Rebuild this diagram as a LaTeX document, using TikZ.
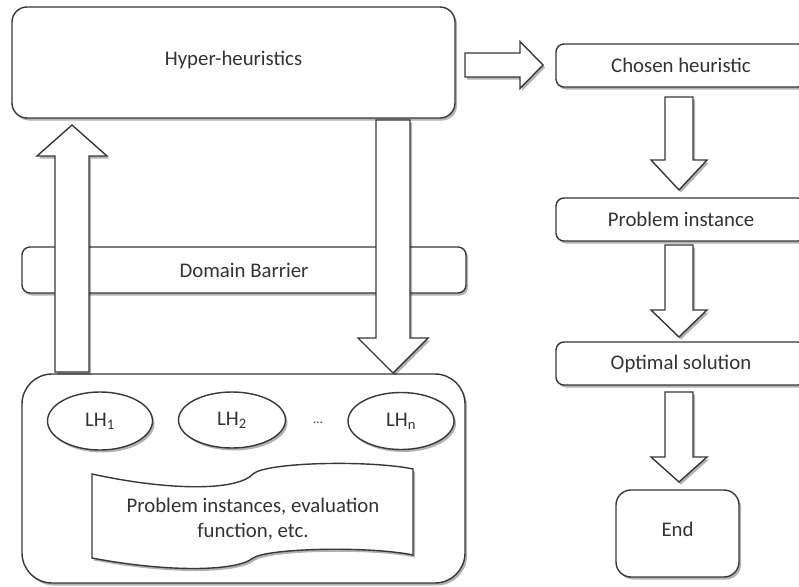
\documentclass[tikz,border=0pt]{standalone}
\usepackage{fontspec}
\setmainfont{Carlito}
\usetikzlibrary{calc,shadows,shapes.geometric}

\definecolor{inkline}{HTML}{383838}
\definecolor{inktext}{HTML}{333333}

% block arrow: start, tip, half shaft width, half head width, head length
\newcommand{\blockarrow}[5]{%
  \path ($(#2)!#5!(#1)$) coordinate (hb);
  \draw[blockarr] ($(#1)!#3!90:(#2)$) -- ($(hb)!#3!90:(#2)$) -- ($(hb)!#4!90:(#2)$)
    -- (#2) -- ($(hb)!#4!-90:(#2)$) -- ($(hb)!#3!-90:(#2)$) -- ($(#1)!#3!-90:(#2)$) -- cycle;
}

\begin{document}
\begin{tikzpicture}[x=1pt,y=-1pt,
  shade/.style={drop shadow={shadow xshift=2pt,shadow yshift=-2.5pt,opacity=0.3,fill=black}},
  outline/.style={draw=inkline,line width=1.4pt,fill=white},
  labelfont/.style={text=inktext,font=\fontsize{20.8}{25}\selectfont},
  box/.style={outline,shade,rounded corners=#1,inner sep=0pt,labelfont},
  box/.default=8pt,
  blockarr/.style={outline,shade,line join=miter},
  lh/.style={outline,shade,ellipse,inner sep=0pt,labelfont},
  txt/.style={labelfont,align=center}
]
\useasboundingbox (0,0) rectangle (799,586);
\clip (0,0) rectangle (799,586);

% left column
\node[box=15pt,minimum width=443pt,minimum height=111pt] (hyper) at (233.5,62.5)
  {\raisebox{8pt}{Hyper-heuristics}};
\node[box=30pt,minimum width=443pt,minimum height=209pt] (pool) at (243.5,478.5) {};

% the barrier sits under the arrows that cross it
\node[box=8pt,minimum width=444pt,minimum height=46pt] (barrier) at (244,270) {};

\coordinate (upS) at (72,372);
\coordinate (upT) at (72,125);
\coordinate (dnS) at (393,120);
\coordinate (dnT) at (393,373);
\blockarrow{upS}{upT}{17pt}{35pt}{31pt}
\blockarrow{dnS}{dnT}{17pt}{35pt}{35pt}

\node[txt] (barrierText) at (244,270) {Domain Barrier};

% low-level heuristics
\node[lh,minimum width=105pt,minimum height=58pt] (lh1) at (100,421) {LH\textsubscript{1}};
\node[lh,minimum width=107pt,minimum height=56pt] (lh2) at (232,420) {LH\textsubscript{2}};
\node[txt,font=\fontsize{13}{15}\selectfont] (dots) at (318,423) {...};
\node[lh,minimum width=106pt,minimum height=57pt] (lhn) at (401,421) {LH\textsubscript{n}};

% domain information banner
\draw[outline,shade] (92,474) .. controls (165,490) and (236,492) .. (253,474)
  .. controls (266,462) and (370,460) .. (413,469)
  -- (413,555) .. controls (370,546) and (268,548) .. (253,558)
  .. controls (236,572) and (165,572) .. (92,558) -- cycle;
\node[txt] (domainText) at (253,519) {Problem instances, evaluation\\function, etc.};

% right column
\node[box=8pt,minimum width=250pt,minimum height=43pt] (chosen) at (681,65.5) {Chosen heuristic};
\node[box=8pt,minimum width=250pt,minimum height=43pt] (inst) at (681,219.5) {Problem instance};
\node[box=8pt,minimum width=250pt,minimum height=43pt] (opt) at (681,363.5) {Optimal solution};
\node[box=15pt,minimum width=123pt,minimum height=87pt] (fin) at (677.5,533.5)
  {\raisebox{8pt}{End}};

\coordinate (rS) at (465,65);
\coordinate (rT) at (543,65);
\blockarrow{rS}{rT}{12pt}{23.5pt}{23pt}

\coordinate (a1S) at (679,97);
\coordinate (a1T) at (679,190);
\coordinate (a2S) at (679,245);
\coordinate (a2T) at (679,337);
\coordinate (a3S) at (679,392);
\coordinate (a3T) at (679,482);
\blockarrow{a1S}{a1T}{14pt}{28pt}{30pt}
\blockarrow{a2S}{a2T}{14pt}{28pt}{27pt}
\blockarrow{a3S}{a3T}{14pt}{28pt}{25pt}
\end{tikzpicture}
\end{document}
